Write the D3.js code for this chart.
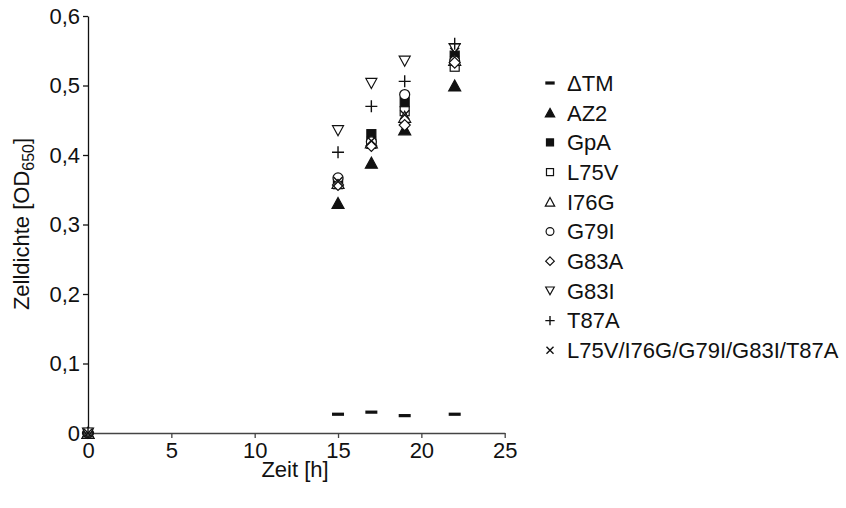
<!DOCTYPE html>
<html><head><meta charset="utf-8">
<script src="https://cdn.jsdelivr.net/npm/d3@7"></script>
<style>body{margin:0;background:#fff}svg{display:block;font-family:"Liberation Sans",Arial,sans-serif}</style>
</head><body><svg id="c" width="846" height="508"></svg>
<script>
const times = [0, 15, 17, 19, 22];
const seriesNames = ["ΔTM","AZ2","GpA","L75V","I76G","G79I","G83A","G83I","T87A","L75V/I76G/G79I/G83I/T87A"];
const dTM  = [0, 0.027, 0.030, 0.025, 0.027];
const AZ2  = [0, 0.331, 0.389, 0.437, 0.500];
const GpA  = [0, 0.362, 0.430, 0.476, 0.543];
const L75V = [0, 0.358, 0.416, 0.463, 0.527];
const I76G = [0, 0.360, 0.418, 0.455, 0.537];
const G79I = [0, 0.367, 0.419, 0.487, 0.535];
const G83A = [0, 0.357, 0.413, 0.443, 0.533];
const G83I = [0, 0.435, 0.503, 0.535, 0.553];
const T87A = [0, 0.404, 0.470, 0.506, 0.560];
const MULTI= [0, 0.362, 0.420, 0.458, 0.548];
const seriesValues = [dTM, AZ2, GpA, L75V, I76G, G79I, G83A, G83I, T87A, MULTI];
const markerTypes = ["dash","triUpF","squareF","square","triUp","circle","diamond","triDown","plus","cross"];
const xTicks = [0,5,10,15,20,25];
const yTicks = [0,0.1,0.2,0.3,0.4,0.5,0.6];
const yTickLabels = ["0","0,1","0,2","0,3","0,4","0,5","0,6"];

const FS = 22;
const svg = d3.select("#c");
const x = d3.scaleLinear().domain([0,25]).range([88,504.7]);
const y = d3.scaleLinear().domain([0,0.6]).range([433,16]);

// axes
const xa = svg.append("g").attr("transform","translate(0,433)")
  .call(d3.axisBottom(x).tickValues(xTicks).tickSize(5).tickSizeOuter(0).tickPadding(4).tickFormat(d3.format("d")));
xa.attr("font-size",FS).attr("font-family","Liberation Sans, Arial, sans-serif");
xa.select(".domain").attr("stroke","#444").attr("stroke-width",1.3);
xa.selectAll(".tick line").attr("stroke","#444").attr("stroke-width",1.3);
xa.selectAll("text").attr("fill","#111");

const ya = svg.append("g").attr("transform","translate(88,0)")
  .call(d3.axisLeft(y).tickValues(yTicks).tickSize(5).tickSizeOuter(0).tickPadding(3).tickFormat((d,i)=>yTickLabels[i]));
ya.attr("font-size",FS).attr("font-family","Liberation Sans, Arial, sans-serif");
ya.select(".domain").attr("stroke","#111").attr("stroke-width",1.3);
ya.selectAll(".tick line").attr("stroke","#111").attr("stroke-width",1.3);
ya.selectAll("text").attr("fill","#111");

svg.append("text").attr("x",295).attr("y",477).attr("text-anchor","middle")
  .attr("font-size",FS).attr("fill","#111").text("Zeit [h]");
const yt = svg.append("text").attr("transform","translate(29,224) rotate(-90)")
  .attr("text-anchor","middle").attr("font-size",FS).attr("fill","#111");
yt.append("tspan").text("Zelldichte [OD");
yt.append("tspan").attr("font-size",16).attr("dy",5).text("650");
yt.append("tspan").attr("dy",-5).text("]");

function drawMarker(g, type, cx, cy, s) {
  const col = "#111";
  const sw = 1.2;
  if (type === "dash") {
    g.append("rect").attr("x",cx-6*s).attr("y",cy-1.6).attr("width",12*s).attr("height",3.2).attr("fill",col);
  } else if (type === "triUpF" || type === "triUp") {
    const h = 11*s, w = 12*s;
    g.append("path").attr("d",`M${cx},${cy-h/2}L${cx+w/2},${cy+h/2}L${cx-w/2},${cy+h/2}Z`)
      .attr("fill", type==="triUpF"?col:"#fff").attr("stroke",col).attr("stroke-width",sw);
  } else if (type === "triDown") {
    const h = 10*s, w = 11*s;
    g.append("path").attr("d",`M${cx},${cy+h/2}L${cx+w/2},${cy-h/2}L${cx-w/2},${cy-h/2}Z`)
      .attr("fill","#fff").attr("stroke",col).attr("stroke-width",sw);
  } else if (type === "squareF" || type === "square") {
    const a = 9*s;
    g.append("rect").attr("x",cx-a/2).attr("y",cy-a/2).attr("width",a).attr("height",a)
      .attr("fill", type==="squareF"?col:"#fff").attr("stroke",col).attr("stroke-width",sw);
  } else if (type === "circle") {
    g.append("circle").attr("cx",cx).attr("cy",cy).attr("r",5*s)
      .attr("fill","#fff").attr("stroke",col).attr("stroke-width",sw);
  } else if (type === "diamond") {
    const r = 5.5*s;
    g.append("path").attr("d",`M${cx},${cy-r}L${cx+r},${cy}L${cx},${cy+r}L${cx-r},${cy}Z`)
      .attr("fill","#fff").attr("stroke",col).attr("stroke-width",sw);
  } else if (type === "plus") {
    const r = 6*s;
    g.append("path").attr("d",`M${cx-r},${cy}H${cx+r}M${cx},${cy-r}V${cy+r}`)
      .attr("stroke",col).attr("stroke-width",1.4).attr("fill","none");
  } else if (type === "cross") {
    const r = 4.5*s;
    g.append("path").attr("d",`M${cx-r},${cy-r}L${cx+r},${cy+r}M${cx+r},${cy-r}L${cx-r},${cy+r}`)
      .attr("stroke",col).attr("stroke-width",1.4).attr("fill","none");
  }
}

const pts = svg.append("g");
seriesValues.forEach((vals, si) => {
  vals.forEach((v, i) => {
    drawMarker(pts, markerTypes[si], x(times[i]), y(v), 1);
  });
});

// legend
const lg = svg.append("g");
seriesNames.forEach((n, i) => {
  const cy = 83 + i*29.7;
  drawMarker(lg, markerTypes[i], 550, cy, 0.78);
  lg.append("text").attr("x",567).attr("y",cy+7.8).attr("font-size",FS).attr("fill","#111").text(n);
});
</script></body></html>
